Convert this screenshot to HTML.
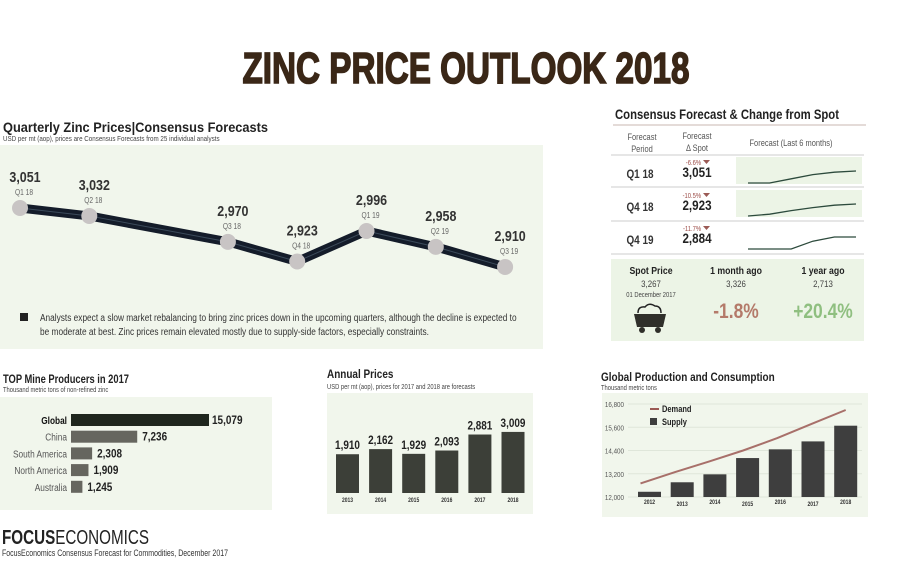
<!DOCTYPE html>
<html><head><meta charset="utf-8"><style>
html,body{margin:0;padding:0;background:#fff;}
svg{display:block;font-family:"Liberation Sans",sans-serif;}
.b{font-weight:bold;}
</style></head><body>
<svg id="root" width="900" height="572" viewBox="0 0 900 572" xmlns="http://www.w3.org/2000/svg">
<text x="466" y="83" text-anchor="middle" font-size="44" font-weight="bold" fill="#3a2717" stroke="#3a2717" stroke-width="1.6" textLength="447" lengthAdjust="spacingAndGlyphs">ZINC PRICE OUTLOOK 2018</text>

<g>
<text x="3" y="132" font-size="14" class="b" fill="#222" textLength="265" lengthAdjust="spacingAndGlyphs">Quarterly Zinc Prices|Consensus Forecasts</text>
<text x="3" y="141" font-size="7.5" fill="#444">USD per mt (aop), prices are Consensus Forecasts from 25 individual analysts</text>
<rect x="0" y="145" width="543" height="204" fill="#f1f6ec"/>
<g id="qchart"></g>
<rect x="20" y="313" width="8" height="8" fill="#222"/>
<text x="40" y="321" font-size="10" fill="#333">Analysts expect a slow market rebalancing to bring zinc prices down in the upcoming quarters, although the decline is expected to</text>
<text x="40" y="335" font-size="10" fill="#333">be moderate at best. Zinc prices remain elevated mostly due to supply-side factors, especially constraints.</text>
</g>

<g>
<text x="615" y="119" font-size="13.5" class="b" fill="#222" textLength="224" lengthAdjust="spacingAndGlyphs">Consensus Forecast &amp; Change from Spot</text>
<line x1="613" y1="125" x2="866" y2="125" stroke="#c9b7b0"/>
<g font-size="9" fill="#555" text-anchor="middle">
<text x="642" y="140">Forecast</text>
<text x="642" y="152">Period</text>
<text x="697" y="139">Forecast</text>
<text x="697" y="151">Δ  Spot</text>
<text x="791" y="146">Forecast (Last 6 months)</text>
</g>
<line x1="611" y1="155" x2="864" y2="155" stroke="#ccc"/>
<line x1="611" y1="187" x2="864" y2="187" stroke="#ccc"/>
<line x1="611" y1="221" x2="864" y2="221" stroke="#ccc"/>
<line x1="611" y1="254" x2="864" y2="254" stroke="#ccc"/>
<g id="rows"></g>
<rect x="611" y="259" width="253" height="82" fill="#ecf4e6"/>
<g text-anchor="middle">
<text x="651" y="274" font-size="10.5" class="b" fill="#222">Spot Price</text>
<text x="651" y="287" font-size="9.5" fill="#444">3,267</text>
<text x="651" y="297" font-size="7" fill="#444">01 December 2017</text>
<text x="736" y="274" font-size="10.5" class="b" fill="#222">1 month ago</text>
<text x="736" y="287" font-size="9.5" fill="#444">3,326</text>
<text x="736" y="318" font-size="21" class="b" fill="#b47a6a">-1.8%</text>
<text x="823" y="274" font-size="10.5" class="b" fill="#222">1 year ago</text>
<text x="823" y="287" font-size="9.5" fill="#444">2,713</text>
<text x="823" y="318" font-size="21" class="b" fill="#8fbf80">+20.4%</text>
</g>
<g>
<path d="M638 313 q0-7 7-6 q4-5 10-1 q6 0 6 7" fill="none" stroke="#222" stroke-width="1.5"/>
<path d="M634 314 h32 l-3 13 h-26 z" fill="#2f2f2a"/>
<circle cx="642" cy="330" r="3" fill="#2f2f2a"/><circle cx="658" cy="330" r="3" fill="#2f2f2a"/>
</g>
</g>

<g>
<text x="3" y="383" font-size="12" class="b" fill="#222" textLength="126" lengthAdjust="spacingAndGlyphs">TOP Mine Producers in 2017</text>
<text x="3" y="392" font-size="7" fill="#444">Thousand metric tons of non-refined zinc</text>
<rect x="0" y="397" width="272" height="113" fill="#f1f6ec"/>
<g id="hbars"></g>
</g>

<g>
<text x="327" y="378" font-size="12" class="b" fill="#222">Annual Prices</text>
<text x="327" y="389" font-size="7" fill="#444">USD per mt (aop), prices for 2017 and 2018 are forecasts</text>
<rect x="327" y="393" width="206" height="121" fill="#f1f6ec"/>
<g id="abars"></g>
</g>

<g>
<text x="601" y="381" font-size="12" class="b" fill="#222">Global Production and Consumption</text>
<text x="601" y="390" font-size="7" fill="#444">Thousand metric tons</text>
<rect x="602" y="393" width="266" height="124" fill="#f1f6ec"/>
<g id="pchart"></g>
<line x1="650" y1="409" x2="659" y2="409" stroke="#9b5a55" stroke-width="2"/>
<text x="662" y="412" font-size="9" class="b" fill="#222">Demand</text>
<rect x="650" y="418" width="7" height="7" fill="#3e3e3e"/>
<text x="662" y="425" font-size="9" class="b" fill="#222">Supply</text>
</g>

<text x="2" y="544" font-size="20" fill="#222" textLength="147" lengthAdjust="spacingAndGlyphs"><tspan font-weight="bold">FOCUS</tspan>ECONOMICS</text>
<text x="2" y="556" font-size="9" fill="#333" textLength="226" lengthAdjust="spacingAndGlyphs">FocusEconomics Consensus Forecast for Commodities, December 2017</text>
</svg>
<script>
var NS="http://www.w3.org/2000/svg";
function mk(p,t,a,txt){var e=document.createElementNS(NS,t);for(var k in a)e.setAttribute(k,a[k]);if(txt!=null)e.textContent=txt;p.appendChild(e);return e;}

var qLabels=["Q1 18","Q2 18","Q3 18","Q4 18","Q1 19","Q2 19","Q3 19"];
var qValues=[3051,3032,2970,2923,2996,2958,2910];
var qTexts=["3,051","3,032","2,970","2,923","2,996","2,958","2,910"];
var cPeriods=["Q1 18","Q4 18","Q4 19"];
var cValues=["3,051","2,923","2,884"];
var cChanges=["-6.6%","-10.5%","-11.7%"];
var spark1=[0,0,0.35,0.7,0.9,1];
var spark2=[0,0.15,0.45,0.7,0.9,1];
var spark3=[0,0,0,0.65,1,1];
var pNames=["Global","China","South America","North America","Australia"];
var pValues=[15079,7236,2308,1909,1245];
var pTexts=["15,079","7,236","2,308","1,909","1,245"];
var aYears=["2013","2014","2015","2016","2017","2018"];
var aValues=[1910,2162,1929,2093,2881,3009];
var aTexts=["1,910","2,162","1,929","2,093","2,881","3,009"];
var gYears=["2012","2013","2014","2015","2016","2017","2018"];
var gSupply=[12270,12760,13170,14010,14460,14870,15680];
var gDemand=[12700,13280,13830,14400,15040,15770,16490];
var gTicks=[12000,13200,14400,15600,16800];

(function(){
 var g=document.getElementById('qchart');
 function qx(i){return 20+(i+(i>=2?1:0))*69.3;}
 function qy(v){return 208+(3051-v)*0.418;}
 var d=qValues.map(function(v,i){return (i?'L':'M')+qx(i)+' '+qy(v);}).join(' ');
 var l=mk(g,'path',{d:d,fill:'none',stroke:'#141c2a','stroke-width':9,'stroke-linejoin':'round'});
 
 
 mk(g,'path',{d:d,fill:'none',stroke:'#3b4a5a','stroke-width':1});
 qValues.forEach(function(v,i){
  var c=mk(g,'circle',{cx:qx(i),cy:qy(v),r:8,fill:'#c8c4c4'});
  
  
  var t=mk(g,'text',{x:qx(i)+5,y:qy(v)-26,'font-size':15,'font-weight':'bold',fill:'#333','text-anchor':'middle'},qTexts[i]);
  
  
  var q=mk(g,'text',{x:qx(i)+4,y:qy(v)-13,'font-size':8,fill:'#666','text-anchor':'middle'},qLabels[i]);
  
  
 });
})();

(function(){
 var g=document.getElementById('rows');
 var sp=[spark1,spark2,spark3];
 cPeriods.forEach(function(p,i){
  var y0=155+i*33;
  if(i<2){mk(g,'rect',{x:736,y:y0+2,width:126,height:27,fill:'#ecf4e6'});}
  var a=mk(g,'text',{x:640,y:y0+23,'font-size':12,'font-weight':'bold',fill:'#333','text-anchor':'middle'},p);
  
  
  var b=mk(g,'text',{x:697,y:y0+22,'font-size':14,'font-weight':'bold',fill:'#222','text-anchor':'middle'},cValues[i]);
  
  
  var c=mk(g,'text',{x:701,y:y0+10,'font-size':7,fill:'#9b4a45','text-anchor':'end'},cChanges[i]);
  
  
  mk(g,'path',{d:'M703 '+(y0+5)+' h7 l-3.5 4 z',fill:'#9b5a55'});
  var s=sp[i],d=s.map(function(v,j){return (j?'L':'M')+(748+j*21.6)+' '+(y0+28-v*12);}).join(' ');
  var pl=mk(g,'path',{d:d,fill:'none',stroke:'#2c4a3c','stroke-width':1.3});
  
  
 });
})();

(function(){
 var g=document.getElementById('hbars');
 function w(v){return v*138/15079;}
 pNames.forEach(function(n,i){
  var y=414+i*16.7;
  var r=mk(g,'rect',{x:71,y:y,width:w(pValues[i]),height:12,fill:i?'#66665f':'#1f261e'});
  
  
  var t=mk(g,'text',{x:67,y:y+10,'font-size':10,fill:i?'#555':'#111','font-weight':i?'normal':'bold','text-anchor':'end'},n);
  
  
  var v=mk(g,'text',{x:71+w(pValues[i])+(i?5:3),y:y+10,'font-size':12,'font-weight':'bold',fill:'#222'},pTexts[i]);
  
  
 });
})();

(function(){
 var g=document.getElementById('abars');
 function h(v){return v*0.0203;}
 aValues.forEach(function(v,i){
  var x=336+i*33.1;
  var r=mk(g,'rect',{x:x,y:493-h(v),width:23,height:h(v),fill:'#3c3f38'});
  
  
  var t=mk(g,'text',{x:x+11.5,y:493-h(v)-5,'font-size':12,'font-weight':'bold',fill:'#222','text-anchor':'middle'},aTexts[i]);
  
  
  var yr=mk(g,'text',{x:x+11.5,y:502,'font-size':6,'font-weight':'bold',fill:'#333','text-anchor':'middle'},aYears[i]);
  
  
 });
})();

(function(){
 var g=document.getElementById('pchart');
 function y(v){return 497-(v-12000)*93/4800;}
 function x(i){return 649.5+i*32.7;}
 gTicks.forEach(function(t){
  mk(g,'line',{x1:628,y1:y(t),x2:862,y2:y(t),stroke:'#dfe6da'});
  var lb=mk(g,'text',{x:624,y:y(t)+3,'font-size':7.5,fill:'#555','text-anchor':'end'},t.toLocaleString('en-US'));
  
  
 });
 gSupply.forEach(function(v,i){
  var r=mk(g,'rect',{x:x(i)-11.5,y:y(v),width:23,height:497-y(v),fill:'#3e3e3e'});
  
  
  var yr=mk(g,'text',{x:x(i),y:i%2?506:504,'font-size':6,'font-weight':'bold',fill:'#333','text-anchor':'middle'},gYears[i]);
  
  
 });
 var d=gDemand.map(function(v,i){return (i?'L':'M')+(x(i)-9+i*(1.5))+' '+y(v);}).join(' ');
 var l=mk(g,'path',{d:d,fill:'none',stroke:'#a8706a','stroke-width':2});
 
 
})();

Array.prototype.forEach.call(document.querySelectorAll('text'),function(t){
 if(t.hasAttribute('textLength'))return;
 var L=t.getComputedTextLength();
 if(L>0){t.setAttribute('textLength',(L*0.83).toFixed(1));t.setAttribute('lengthAdjust','spacingAndGlyphs');}
});
</script>
</body></html>
